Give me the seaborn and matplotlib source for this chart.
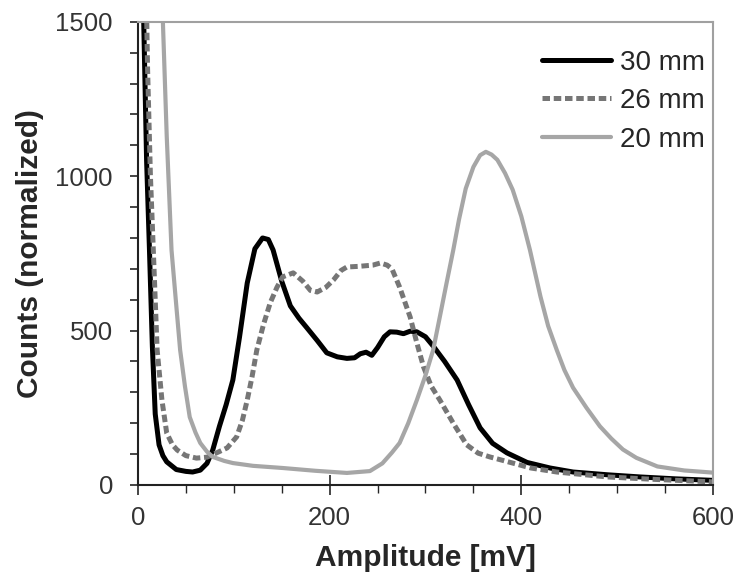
import matplotlib
matplotlib.use("Agg")
import matplotlib.pyplot as plt
from matplotlib.ticker import MultipleLocator
import seaborn as sns

# 30 mm (black, solid)
x30 = [3, 6, 9, 12, 15, 18, 22, 26, 30, 40, 50, 57, 65, 72, 78, 85, 92, 99, 106, 114,
       122, 130, 136, 141, 150, 159, 168, 176, 187, 197, 208, 218, 226, 232, 238, 244, 250, 257, 263, 270,
       277, 284, 291, 300, 308, 320, 333, 345, 357, 370, 385, 406, 430, 454, 490, 524, 560, 600]
y30 = [2100, 1500, 1050, 760, 450, 230, 130, 95, 75, 50, 44, 42, 48, 70, 113, 190, 260, 340, 480, 654,
       765, 800, 795, 761, 660, 580, 540, 510, 468, 428, 415, 410, 412, 425, 430, 420, 445, 480, 496, 495,
       490, 498, 496, 480, 450, 400, 340, 260, 185, 135, 104, 73, 55, 42, 33, 26, 20, 15]

# 26 mm (gray, dashed)
x26 = [6, 8, 10, 13, 16, 20, 25, 30, 36, 41, 50, 61, 72, 82, 93, 103, 109, 114, 119, 124,
       131, 138, 145, 151, 162, 172, 180, 187, 196, 204, 212, 218, 230, 245, 253, 260, 265, 273, 284, 291,
       298, 306, 315, 329, 343, 355, 367, 391, 410, 437, 490, 540, 600]
y26 = [2200, 1700, 1350, 1000, 761, 437, 275, 168, 130, 113, 95, 87, 90, 104, 120, 156, 210, 275, 350, 437,
       520, 590, 640, 674, 687, 660, 630, 625, 640, 664, 695, 706, 708, 712, 719, 712, 700, 641, 544, 460,
       382, 320, 275, 200, 130, 103, 91, 71, 55, 42, 26, 18, 10]

# 20 mm (light gray, solid)
x20 = [18, 22, 26, 30, 35, 40, 44, 49, 54, 60, 65, 72, 78, 90, 99, 120, 151, 185, 218, 242,
       255, 265, 273, 282, 291, 300, 308, 315, 322, 329, 335, 342, 350, 357, 363, 369, 375, 383, 391, 400,
       409, 420, 428, 437, 445, 454, 468, 482, 494, 506, 520, 542, 570, 600]
y20 = [2000, 1750, 1500, 1130, 761, 580, 437, 320, 220, 170, 136, 108, 91, 78, 71, 62, 55, 46, 39, 45,
       70, 105, 136, 200, 275, 355, 437, 545, 654, 761, 860, 960, 1030, 1068, 1079, 1070, 1053, 1010, 956, 870,
       761, 610, 515, 437, 372, 315, 250, 190, 150, 115, 88, 60, 47, 40]

x_ticks = [0, 200, 400, 600]
y_ticks = [0, 500, 1000, 1500]


def main():
    sns.set_style("ticks")
    plt.rcParams["font.family"] = ["Liberation Sans", "DejaVu Sans"]

    fig = plt.figure(figsize=(7.41, 5.87), dpi=100)
    ax = fig.add_axes([0.1862, 0.1738, 0.776, 0.789])

    line_kw = dict(estimator=None, sort=False, solid_joinstyle="round", solid_capstyle="round")
    sns.lineplot(x=x30, y=y30, ax=ax, color="black", linewidth=3.6, label="30 mm", **line_kw)
    sns.lineplot(x=x26, y=y26, ax=ax, color="#767676", linewidth=3.6,
                 linestyle=(0, (1.5, 0.75)), label="26 mm", **line_kw)
    sns.lineplot(x=x20, y=y20, ax=ax, color="#a6a6a6", linewidth=3.0, label="20 mm", **line_kw)

    ax.set_xlim(0, 600)
    ax.set_ylim(0, 1500)
    ax.set_xticks(x_ticks)
    ax.set_yticks(y_ticks)
    ax.xaxis.set_minor_locator(MultipleLocator(50))
    ax.yaxis.set_minor_locator(MultipleLocator(100))

    ax.tick_params(axis="x", which="major", direction="inout", length=14, width=1.2,
                   labelsize=18.5, labelcolor="#333333", pad=8)
    ax.tick_params(axis="x", which="minor", direction="out", length=6, width=1.0)
    ax.tick_params(axis="y", which="both", direction="out", length=6, width=1.2,
                   labelsize=18.5, labelcolor="#333333", pad=12)

    for side in ["left", "bottom"]:
        ax.spines[side].set_color("#222222")
        ax.spines[side].set_linewidth(1.5)
    for side in ["top", "right"]:
        ax.spines[side].set_color("#a0a0a0")
        ax.spines[side].set_linewidth(1.5)

    ax.set_xlabel("Amplitude [mV]", fontsize=21.5, fontweight="bold", labelpad=10)
    ax.set_ylabel("Counts (normalized)", fontsize=21.5, fontweight="bold", labelpad=8)

    ax.legend(loc="upper right", bbox_to_anchor=(1.0, 0.958), frameon=False,
              fontsize=20, handlelength=2.5, handletextpad=0.3,
              labelspacing=0.45, borderaxespad=0.1, borderpad=0.2)

    fig.savefig("out.png", dpi=100)


if __name__ == "__main__":
    main()
